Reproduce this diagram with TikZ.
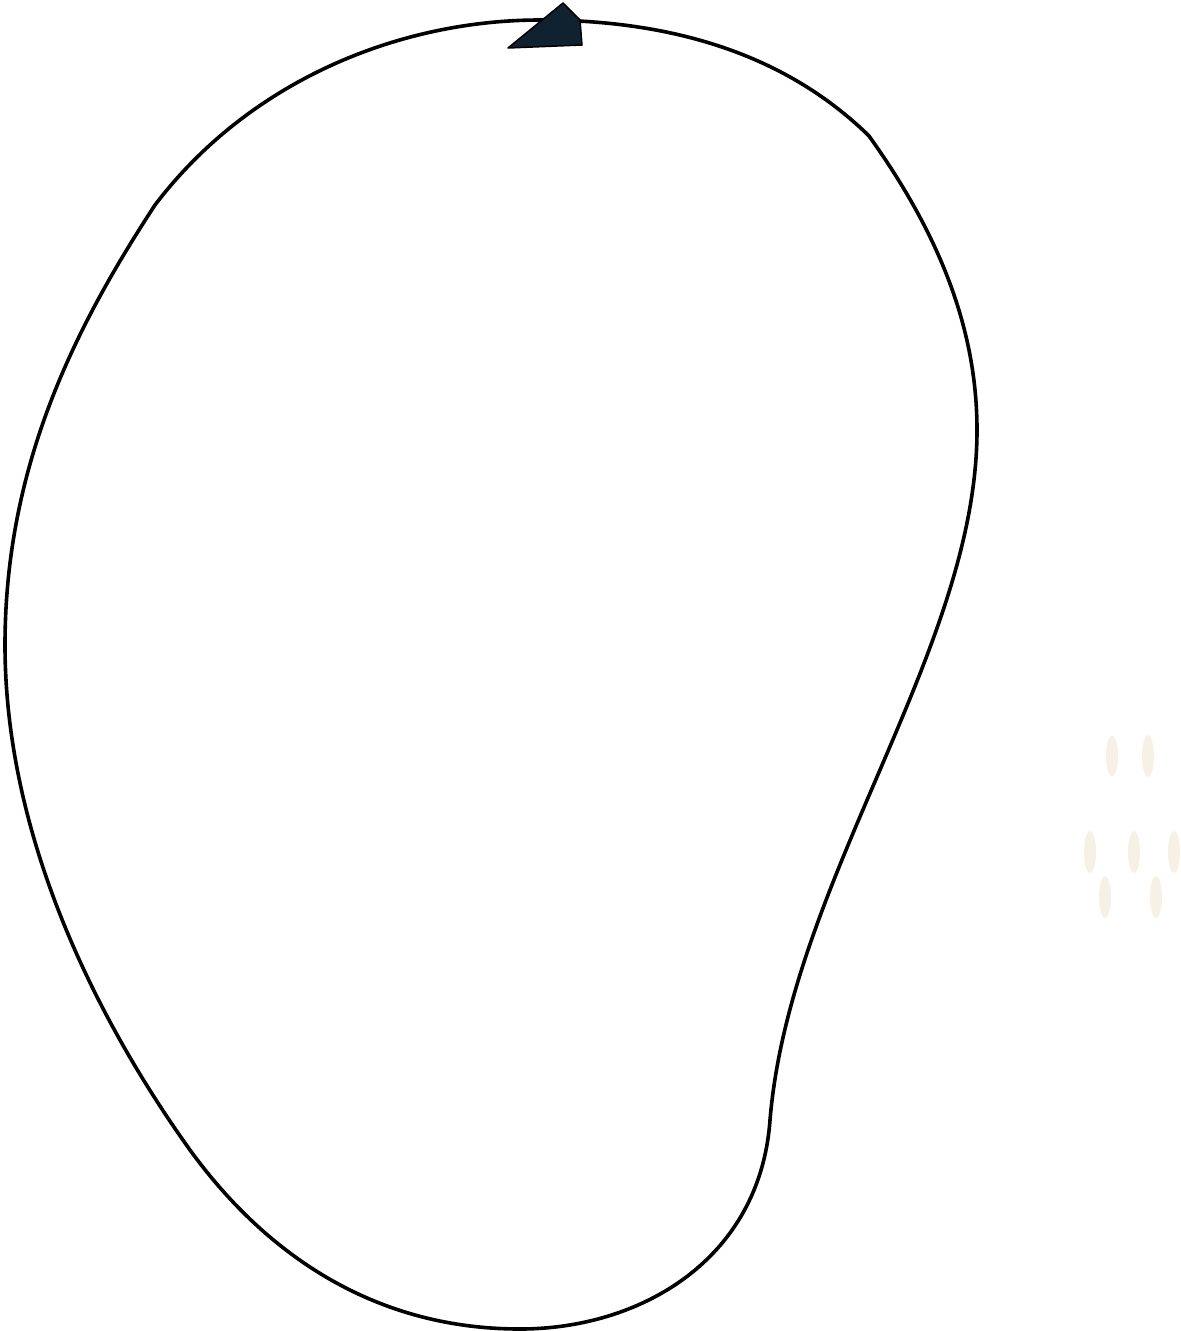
\documentclass[tikz,border=0pt]{standalone}
\begin{document}
\begin{tikzpicture}[x=1pt,y=-1pt,
  outline/.style={line width=3.6pt,black,line join=round},
  seed/.style={fill=seedc,draw=none},
  tip/.style={fill=tipc,draw=black,line width=1.5pt,line join=round}]
\definecolor{seedc}{HTML}{F7F1E5}
\definecolor{tipc}{HTML}{10222F}
\useasboundingbox (0,0) rectangle (1181,1331);
\coordinate (top) at (540,20);
\coordinate (k1) at (866,133);
\coordinate (k2) at (869,136);
\coordinate (r) at (977,430);
\coordinate (n) at (770,1120);
\coordinate (b) at (520,1329);
\coordinate (bl) at (190,1150);
\coordinate (l) at (5,645);
\coordinate (tl) at (155,205);
\draw[outline] (top) .. controls (700,20) and (800,70) .. (k1)
  -- (k2) .. controls (940,235) and (977,330) .. (r)
  .. controls (977,650) and (790,880) .. (n)
  .. controls (760,1260) and (640,1329) .. (b)
  .. controls (380,1329) and (270,1260) .. (bl)
  .. controls (90,1010) and (5,830) .. (l)
  .. controls (5,460) and (80,320) .. (tl)
  .. controls (250,80) and (400,20) .. (top);
\fill[tip] (508,48) -- (563,3) -- (580,20) -- (582,45) -- cycle;
\foreach \p in {(1112,756),(1148,756),(1090,852),(1134,852),(1174,852),(1105,897),(1156,897)}
  \fill[seed] \p ellipse (6 and 21);
\end{tikzpicture}
\end{document}
